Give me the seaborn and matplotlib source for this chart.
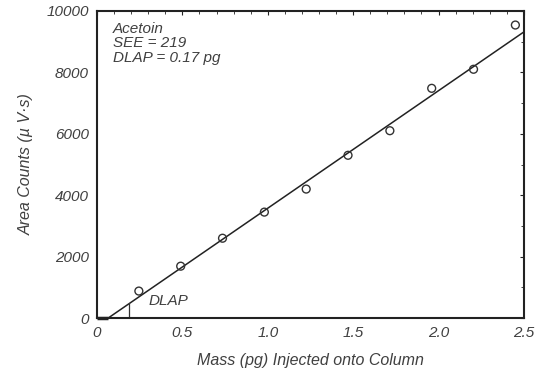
import numpy as np
import pandas as pd
import matplotlib
matplotlib.use('Agg')
import matplotlib.pyplot as plt
from matplotlib.ticker import MultipleLocator
import seaborn as sns

# data
mass_pg = [0.245, 0.49, 0.735, 0.98, 1.225, 1.47, 1.715, 1.96, 2.205, 2.45]
area_counts = [880, 1690, 2600, 3450, 4200, 5300, 6100, 7480, 8100, 9540]

# fitted line as drawn: x-intercept and slope
fit_x0 = 0.065
fit_slope = 3826
dlap_x = 0.19

compound = "Acetoin"
see_value = 219
dlap_value = 0.17

sns.set_theme(style="white")
plt.rcParams['font.family'] = ['Liberation Sans', 'DejaVu Sans']
plt.rcParams['font.style'] = 'italic'

df = pd.DataFrame({'mass': mass_pg, 'area': area_counts})
fit_x = np.array([fit_x0, 2.5])
fit_df = pd.DataFrame({'mass': fit_x, 'area': fit_slope * (fit_x - fit_x0)})

fig = plt.figure(figsize=(5.39, 3.76), dpi=100)
ax = fig.add_axes([0.18, 0.154, 0.792, 0.817])

sns.lineplot(data=fit_df, x='mass', y='area', ax=ax, color='#222222', linewidth=1.1)
sns.scatterplot(data=df, x='mass', y='area', ax=ax, marker='o', s=32,
                facecolor='none', edgecolor='#333333', linewidth=1.0, zorder=3)

# DLAP marker
ax.plot([dlap_x, dlap_x], [0, fit_slope * (dlap_x - fit_x0)], color='#333333', linewidth=0.9)
ax.plot([0, fit_x0], [0, 0], color='#222222', linewidth=2.5, solid_capstyle='butt', clip_on=False)
ax.text(0.30, 560, "DLAP", fontsize=11, color='#404040', va='center')

ax.text(0.037, 0.965, f"{compound}\nSEE = {see_value}\nDLAP = {dlap_value} pg",
        transform=ax.transAxes, fontsize=11, color='#404040', va='top', ha='left',
        linespacing=1.05)

ax.set_xlim(0, 2.5)
ax.set_ylim(0, 10000)
ax.xaxis.set_minor_locator(MultipleLocator(0.1))
ax.yaxis.set_major_locator(MultipleLocator(2000))
ax.yaxis.set_minor_locator(MultipleLocator(1000))
ax.set_xticks([0, 0.5, 1.0, 1.5, 2.0, 2.5])
ax.set_xticklabels(['0', '0.5', '1.0', '1.5', '2.0', '2.5'])

ax.tick_params(which='both', direction='in', top=True, right=True, colors='#222222',
               labelcolor='#404040', labelsize=11)
ax.tick_params(which='major', length=3, width=0.8, pad=6)
ax.tick_params(which='minor', length=2, width=0.6)

for sp in ax.spines.values():
    sp.set_color('#222222')
    sp.set_linewidth(1.5)

ax.set_xlabel("Mass (pg) Injected onto Column", fontsize=11.5, color='#404040', labelpad=9)
ax.set_ylabel("Area Counts (\u00b5 V\u00b7s)", fontsize=11.5, color='#404040', labelpad=9)

fig.savefig('out.png', dpi=100)
